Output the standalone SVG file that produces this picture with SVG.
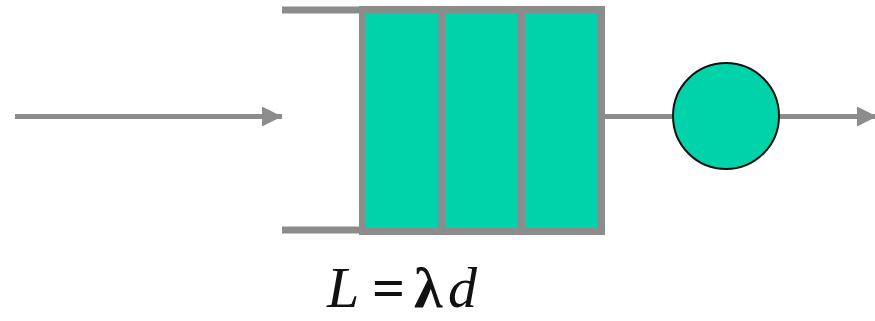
<svg xmlns="http://www.w3.org/2000/svg" width="875" height="321" viewBox="0 0 875 321">
<defs>
<style>
.ln{stroke:#8c8c8c;fill:none}
.cell{fill:#00d2aa}
.eq{font-family:"Liberation Serif","DejaVu Serif",serif;font-size:58px;fill:#111}
</style>
<marker id="ah" viewBox="0 0 10 10" refX="10" refY="5" markerWidth="4" markerHeight="4" markerUnits="strokeWidth" orient="auto">
<path d="M0,0 L10,5 L0,10 z" fill="#8c8c8c"/>
</marker>
</defs>
<g id="connectors">
<line class="ln" x1="15" y1="116.5" x2="282" y2="116.5" stroke-width="5" marker-end="url(#ah)"/>
<line class="ln" x1="605" y1="116.5" x2="672" y2="116.5" stroke-width="5"/>
<line class="ln" x1="780" y1="116.5" x2="877" y2="116.5" stroke-width="5" marker-end="url(#ah)"/>
</g>
<g id="queue">
<rect class="cell" x="362.5" y="9.5" width="239" height="222"/>
<line class="ln" x1="282" y1="10" x2="362" y2="10" stroke-width="7"/>
<line class="ln" x1="282" y1="230" x2="362" y2="230" stroke-width="7"/>
<rect class="ln" x="362.5" y="9.5" width="239" height="222" stroke-width="7"/>
<line class="ln" x1="442" y1="9.5" x2="442" y2="231.5" stroke-width="7"/>
<line class="ln" x1="521.5" y1="9.5" x2="521.5" y2="231.5" stroke-width="7"/>
</g>
<g id="server">
<circle cx="726" cy="116" r="53" fill="#00d2aa" stroke="#111" stroke-width="2"/>
</g>
<g id="label">
<text class="eq" x="327" y="307" font-style="italic">L</text>
<text class="eq" x="372" y="307" font-weight="bold">=</text>
<text class="eq" x="414" y="307" font-weight="bold" font-size="66">λ</text>
<text class="eq" x="448" y="307" font-style="italic" font-size="60">d</text>
</g>
</svg>
